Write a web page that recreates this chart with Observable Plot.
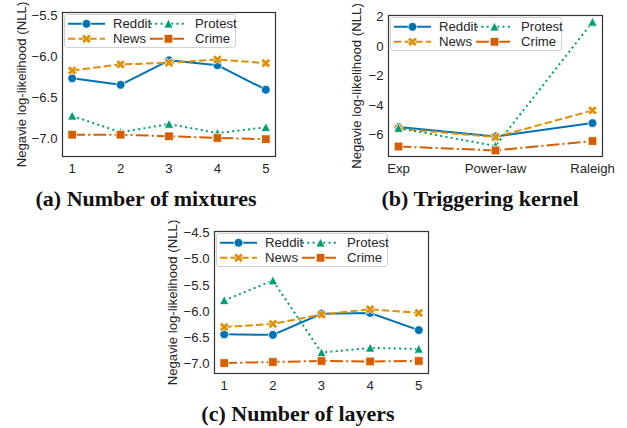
<!DOCTYPE html>
<html>
<head>
<meta charset="utf-8">
<script src="https://cdn.jsdelivr.net/npm/d3@7"></script>
<script src="https://cdn.jsdelivr.net/npm/@observablehq/plot@0.6"></script>
<style>
  html, body { margin: 0; padding: 0; background: white; }
  #fig { position: relative; width: 627px; height: 428px; background: white; overflow: hidden; }
  .panel { position: absolute; }
  .caption { position: absolute; font-family: "Liberation Serif", "DejaVu Serif", serif; font-weight: bold;
    font-size: 22px; line-height: 22px; color: #111; white-space: nowrap; transform: translateX(-50%); }
</style>
</head>
<body>
<div id="fig"></div>
<script>
// ---------- data ----------
const seriesNames = ["Reddit", "News", "Protest", "Crime"];
const seriesColors = ["#0173B2", "#DE8F05", "#029E73", "#D55E00"];
const seriesDash = [undefined, "7.4,3.2", "2,3.3", "12.8,3.2,2,3.2"];
const seriesMarkers = ["circle", "xfilled", "triangle", "square"];

const yLabel = "Negavie log-likelihood (NLL)";
const captions = ["(a) Number of mixtures", "(b) Triggering kernel", "(c) Number of layers"];

// (a) Number of mixtures
const mixturesX = [1, 2, 3, 4, 5];
const mixturesReddit  = [-6.26, -6.34, -6.04, -6.10, -6.40];
const mixturesNews    = [-6.165, -6.09, -6.07, -6.03, -6.075];
const mixturesProtest = [-6.72, -6.92, -6.82, -6.93, -6.86];
const mixturesCrime   = [-6.95, -6.95, -6.97, -6.99, -7.005];
const mixturesYTicks  = [-7.0, -6.5, -6.0, -5.5];

// (b) Triggering kernel
const kernelX = ["Exp", "Power-law", "Raleigh"];
const kernelReddit  = [-5.48, -6.12, -5.21];
const kernelNews    = [-5.59, -6.16, -4.35];
const kernelProtest = [-5.55, -6.76, 1.66];
const kernelCrime   = [-6.80, -7.07, -6.43];
const kernelYTicks  = [-6, -4, -2, 0, 2];

// (c) Number of layers
const layersX = [1, 2, 3, 4, 5];
const layersReddit  = [-6.44, -6.45, -6.045, -6.03, -6.36];
const layersNews    = [-6.30, -6.24, -6.06, -5.96, -6.03];
const layersProtest = [-5.79, -5.41, -6.79, -6.70, -6.72];
const layersCrime   = [-6.99, -6.97, -6.95, -6.96, -6.95];
const layersYTicks  = [-7.0, -6.5, -6.0, -5.5, -5.0, -4.5];

const FONT = "'Liberation Sans', Arial, sans-serif";
const FS = 13.2;

// ---------- marker symbols (matplotlib-like) ----------
function makeSymbol(kind) {
  return {
    draw(ctx, size) {
      const r = Math.sqrt(size / Math.PI);
      if (kind === "circle") {
        ctx.moveTo(r, 0); ctx.arc(0, 0, r, 0, 2 * Math.PI);
      } else if (kind === "square") {
        const s = r * 0.98;
        ctx.moveTo(-s, -s); ctx.lineTo(s, -s); ctx.lineTo(s, s); ctx.lineTo(-s, s);
      } else if (kind === "triangle") {
        ctx.moveTo(0, -r * 1.05); ctx.lineTo(r * 1.05, r * 0.95); ctx.lineTo(-r * 1.05, r * 0.95);
      } else {
        const t = 0.38 * r, L = 1.12 * r, k = Math.SQRT1_2;
        const pts = [[t, L], [t, t], [L, t], [L, -t], [t, -t], [t, -L], [-t, -L], [-t, -t], [-L, -t], [-L, t], [-t, t], [-t, L]]
          .map(([x, y]) => [(x - y) * k, (x + y) * k]);
        ctx.moveTo(pts[0][0], pts[0][1]);
        for (let i = 1; i < pts.length; i++) ctx.lineTo(pts[i][0], pts[i][1]);
      }
      ctx.closePath();
    }
  };
}
const symbols = seriesMarkers.map(makeSymbol);
const markerR = 4.4;

// ---------- legend as a render mark ----------
function legendMark(index, scales, values, dims) {
  const g = d3.create("svg:g")
    .attr("transform", `translate(${dims.marginLeft + 2.5},${dims.marginTop + 2.5})`)
    .attr("font-family", FONT)
    .attr("font-size", FS)
    .attr("text-anchor", "start");
  g.append("rect").attr("width", 171).attr("height", 33).attr("rx", 2.5)
    .attr("fill", "white").attr("fill-opacity", 0.85)
    .attr("stroke", "#cccccc").attr("stroke-width", 0.9);
  seriesNames.forEach((name, i) => {
    const col = Math.floor(i / 2), row = i % 2;
    const cx = col * 82, cy = 9.3 + row * 15;
    const item = g.append("g").attr("transform", `translate(${cx},${cy})`);
    item.append("line").attr("x1", 3.5).attr("x2", 40.5).attr("y1", 0).attr("y2", 0)
      .attr("stroke", seriesColors[i]).attr("stroke-width", 2)
      .attr("stroke-dasharray", seriesDash[i] || null);
    item.append("path").attr("transform", "translate(22,0)")
      .attr("d", d3.symbol(symbols[i], Math.PI * markerR * markerR)())
      .attr("fill", seriesColors[i]).attr("stroke", "white").attr("stroke-width", 0.75);
    item.append("text").attr("x", 48.5).attr("y", 0).attr("dy", "0.35em")
      .attr("text-anchor", "start")
      .attr("fill", "#262626").text(name);
  });
  return g.node();
}

// ---------- panel builder ----------
function panel({xs, xScale, series, yDomain, yTicks, yFormat, width, height, margins, labelDx}) {
  const marks = [Plot.frame({stroke: "#333333", strokeWidth: 1.2})];
  series.forEach((vals, i) => {
    const data = xs.map((x, j) => ({x, y: vals[j]}));
    marks.push(Plot.line(data, {x: "x", y: "y", stroke: seriesColors[i], strokeWidth: 2,
      strokeDasharray: seriesDash[i], strokeLinecap: "butt", strokeLinejoin: "round"}));
    marks.push(Plot.dot(data, {x: "x", y: "y", r: markerR, symbol: symbols[i],
      fill: seriesColors[i], stroke: "white", strokeWidth: 0.75}));
  });
  marks.push(legendMark);
  marks.push(Plot.axisY({ticks: yTicks, tickFormat: yFormat, tickSize: 0, tickPadding: 5, label: null}));
  marks.push(Plot.axisX({ticks: xScale.type === "point" ? undefined : xs, tickFormat: xScale.type === "point" ? undefined : d3.format("d"),
    tickSize: 0, tickPadding: 7, label: null}));
  marks.push(Plot.text([yLabel], {text: d => d, frameAnchor: "left", rotate: -90, dx: labelDx,
    textAnchor: "middle", lineAnchor: "middle", fill: "#262626"}));
  return Plot.plot({
    width, height,
    marginLeft: margins[0], marginRight: margins[1], marginTop: margins[2], marginBottom: margins[3],
    x: xScale,
    y: {domain: yDomain},
    style: {fontFamily: FONT, fontSize: FS + "px", color: "#262626", background: "transparent", overflow: "visible"},
    marks
  });
}

const fig = document.getElementById("fig");
function place(node, left, top) {
  const d = document.createElement("div");
  d.className = "panel"; d.style.left = left + "px"; d.style.top = top + "px";
  d.appendChild(node); fig.appendChild(d);
}
function caption(text, cx, top) {
  const d = document.createElement("div");
  d.className = "caption"; d.style.left = cx + "px"; d.style.top = top + "px";
  d.textContent = text; fig.appendChild(d);
}

place(panel({
  xs: mixturesX, xScale: {type: "linear", domain: [0.8, 5.2]},
  series: [mixturesReddit, mixturesNews, mixturesProtest, mixturesCrime],
  yDomain: [-7.217, -5.455], yTicks: mixturesYTicks, yFormat: d3.format(".1f"),
  width: 310, height: 182, margins: [62, 35, 12, 26], labelDx: -41
}), 0, 0);

place(panel({
  xs: kernelX, xScale: {type: "point", domain: kernelX, padding: 0.1},
  series: [kernelReddit, kernelNews, kernelProtest, kernelCrime],
  yDomain: [-7.48, 2.1], yTicks: kernelYTicks, yFormat: d3.format("d"),
  width: 307, height: 182, margins: [68, 25, 15, 26], labelDx: -31.5
}), 320, 0);

place(panel({
  xs: layersX, xScale: {type: "linear", domain: [0.8, 5.2]},
  series: [layersReddit, layersNews, layersProtest, layersCrime],
  yDomain: [-7.19, -4.47], yTicks: layersYTicks, yFormat: d3.format(".1f"),
  width: 320, height: 180, margins: [64, 42, 16, 22], labelDx: -41.5
}), 150, 215);

caption(captions[0], 146, 187.5);
caption(captions[1], 480, 187.5);
caption(captions[2], 298, 403);
</script>
</body>
</html>
